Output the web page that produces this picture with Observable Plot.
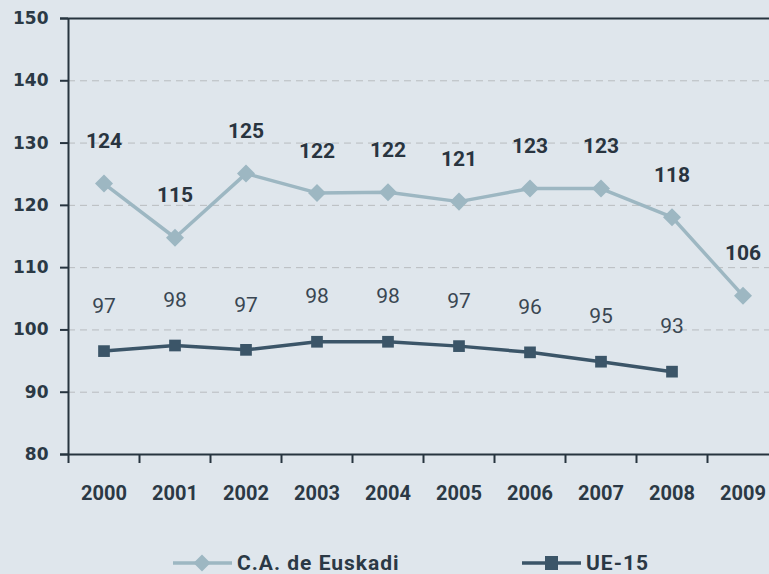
<!DOCTYPE html>
<html>
<head>
<meta charset="utf-8">
<script src="https://cdn.jsdelivr.net/npm/d3@7"></script>
<script src="https://cdn.jsdelivr.net/npm/@observablehq/plot@0.6"></script>
<style>
  html, body { margin: 0; padding: 0; background: #dfe6ec; overflow: hidden; }
  #chart { width: 769px; }
  .legend { position: relative; width: 769px; height: 54px; font-family: Roboto, "DejaVu Sans", sans-serif; font-weight: bold; font-size: 21px; letter-spacing: 1px; color: #2b3945; }
  .legend .item { position: absolute; top: 16px; height: 54px; display: flex; align-items: center; }
  .legend svg { display: block; margin-right: 5px; }
</style>
</head>
<body>
<div id="chart"></div>
<script>
// ---- data ----
const years = [2000, 2001, 2002, 2003, 2004, 2005, 2006, 2007, 2008, 2009];
const euskadi = [123.5, 114.8, 125.1, 122.0, 122.1, 120.6, 122.7, 122.7, 118.1, 105.5];
const ue15Years = [2000, 2001, 2002, 2003, 2004, 2005, 2006, 2007, 2008];
const ue15 = [96.6, 97.5, 96.8, 98.1, 98.1, 97.4, 96.4, 94.9, 93.3];
const yTicks = [80, 90, 100, 110, 120, 130, 140, 150];
const seriesNames = ["C.A. de Euskadi", "UE-15"];

const colEus = "#9db7c2";
const colUE = "#3b5568";
const dark = "#27343f";

const eusData = years.map((y, i) => ({year: y, value: euskadi[i]}));
const ueData = ue15Years.map((y, i) => ({year: y, value: ue15[i]}));
const boundaries = [years[0] - 0.5, ...years.map(y => y + 0.5)];

const chart = Plot.plot({
  width: 769,
  height: 520,
  marginTop: 18,
  marginBottom: 66,
  marginLeft: 68,
  marginRight: 0,
  style: {background: "#dfe6ec", color: dark, overflow: "hidden", fontFamily: "Roboto, sans-serif"},
  x: {type: "linear", domain: [years[0] - 0.5, years[years.length - 1] + 0.5], range: [68, 778], label: null},
  y: {domain: [80, 150], label: null},
  marks: [
    Plot.gridY(yTicks.filter(t => t > 80 && t < 150), {stroke: "#b9bcbf", strokeOpacity: 1, strokeDasharray: "7,5", strokeWidth: 1}),
    Plot.ruleY([80, 150], {stroke: dark, strokeWidth: 2, insetLeft: -8, insetRight: -20}),
    Plot.ruleX([years[0] - 0.5], {y1: 80, y2: 150, stroke: dark, strokeWidth: 2}),
    Plot.axisY({ticks: yTicks, label: null, tickSize: 8, tickPadding: 12, tickFormat: d => String(d), fontSize: 17, fontWeight: "bold", fontFamily: "DejaVu Sans, sans-serif", stroke: dark, strokeWidth: 2, fill: "#2b3945"}),
    Plot.axisX({ticks: boundaries, label: null, tickSize: 9, tickFormat: () => "", stroke: dark, strokeWidth: 2}),
    Plot.axisX({ticks: years, label: null, tickSize: 0, tickPadding: 31, tickFormat: d => String(d), fontSize: 20, fontWeight: "bold", fill: "#2b3945"}),
    Plot.line(eusData, {x: "year", y: "value", stroke: colEus, strokeWidth: 3.5}),
    Plot.dot(eusData, {x: "year", y: "value", symbol: "square", rotate: 45, r: 7.2, fill: colEus, stroke: "none"}),
    Plot.line(ueData, {x: "year", y: "value", stroke: colUE, strokeWidth: 3.5}),
    Plot.dot(ueData, {x: "year", y: "value", symbol: "square", r: 6.6, fill: colUE, stroke: "none"}),
    Plot.text(eusData, {x: "year", y: "value", text: d => String(Math.round(d.value)), dy: -42, fontSize: 21, fontWeight: "bold", fill: "#29343f"}),
    Plot.text(ueData, {x: "year", y: "value", text: d => String(Math.round(d.value)), dy: -45, fontSize: 21, fontWeight: "normal", fill: "#3a4652"})
  ]
});
document.getElementById("chart").appendChild(chart);

// ---- legend ----
const legend = document.createElement("div");
legend.className = "legend";
const items = [
  {name: seriesNames[0], color: colEus, sym: "diamond", left: 173},
  {name: seriesNames[1], color: colUE, sym: "square", left: 522}
];
for (const it of items) {
  const d = document.createElement("div");
  d.className = "item";
  d.style.left = it.left + "px";
  const shape = it.sym === "diamond"
    ? `<rect x="23" y="4" width="12" height="12" fill="${it.color}" transform="rotate(45 29 10)"/>`
    : `<rect x="23" y="3" width="13" height="14" fill="${it.color}"/>`;
  d.innerHTML = `<svg width="59" height="20"><line x1="0" y1="10" x2="59" y2="10" stroke="${it.color}" stroke-width="3.5"/>${shape}</svg><span>${it.name}</span>`;
  legend.appendChild(d);
}
document.body.appendChild(legend);
</script>
</body>
</html>
